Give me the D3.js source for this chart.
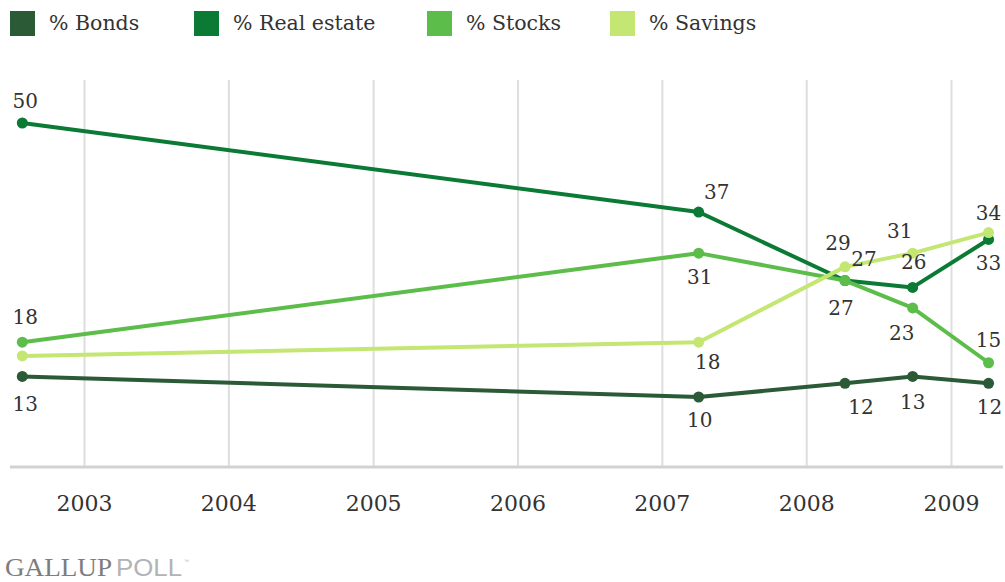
<!DOCTYPE html>
<html>
<head>
<meta charset="utf-8">
<script src="https://cdn.jsdelivr.net/npm/d3@7"></script>
<style>
  html, body { margin: 0; padding: 0; background: #fff; }
  svg { display: block; }
  .legend-label, .point-label, .year-label { font-family: "DejaVu Serif", serif; fill: #333; }
</style>
</head>
<body>
<div id="chart"></div>
<script>
// Poll dates and answers (% naming each as best long-term investment)
const pollDates = ["2002-07-29", "2007-04-04", "2008-04-08", "2008-09-26", "2009-04-06"];
const bonds = [13, 10, 12, 13, 12];
const realEstate = [50, 37, 27, 26, 33];
const stocks = [18, 31, 27, 23, 15];
const savings = [16, 18, 29, 31, 34];
const yearTicks = [2003, 2004, 2005, 2006, 2007, 2008, 2009];

const seriesNames = ["% Bonds", "% Real estate", "% Stocks", "% Savings"];
const seriesValues = [bonds, realEstate, stocks, savings];
// which points carry a printed value (the first savings figure is hidden in the original)
const seriesShown = [
  [true, true, true, true, true],
  [true, true, true, true, true],
  [true, true, true, true, true],
  [false, true, true, true, true],
];

const COLORS = ["#2b5a36", "#0b7a35", "#5dbd4b", "#c4e673"];

// label offsets from each point (label centre), tuned by eye
const LABEL_OFFSETS = [
  [[3, 28], [1, 23], [16, 24], [0, 26], [1, 24]],
  [[3, -22], [18, -20], [19, -22], [1, -25], [0, 24]],
  [[3, -25], [1, 24], [-4, 27], [-11, 25], [0, -23]],
  [[0, 0], [9, 20], [-7, -24], [-13, -22], [0, -20]],
];

const WIDTH = 1005;
const HEIGHT = 582;
const PLOT_TOP = 80;
const PLOT_BOTTOM = 466;

const parseDate = d3.timeParse("%Y-%m-%d");
const dates = pollDates.map(parseDate);

const x = d3
  .scaleTime()
  .domain([new Date(2003, 0, 1), new Date(2009, 0, 1)])
  .range([84, 951]);

const y = d3.scaleLinear().domain([0, 50]).range([PLOT_BOTTOM - 0.5, 123]);

const svg = d3
  .select("#chart")
  .append("svg")
  .attr("width", WIDTH)
  .attr("height", HEIGHT)
  .attr("viewBox", `0 0 ${WIDTH} ${HEIGHT}`);

// —— Legend ——
const legendX = [10, 194, 427, 610];
const legend = svg
  .selectAll(".legend-item")
  .data(seriesNames)
  .join("g")
  .attr("class", "legend-item")
  .attr("transform", (d, i) => `translate(${legendX[i]},11)`);

legend
  .append("rect")
  .attr("width", 25)
  .attr("height", 25)
  .attr("fill", (d, i) => COLORS[i]);

legend
  .append("text")
  .attr("class", "legend-label")
  .attr("x", 39)
  .attr("y", 19)
  .style("font-size", "20.5px")
  .text((d) => d);

// —— Axis + gridlines ——
const axis = svg
  .append("g")
  .attr("transform", `translate(0,${PLOT_BOTTOM})`)
  .call(
    d3
      .axisBottom(x)
      .tickValues(yearTicks.map((yr) => new Date(yr, 0, 1)))
      .tickSize(-(PLOT_BOTTOM - PLOT_TOP))
      .tickPadding(29)
      .tickFormat(d3.timeFormat("%Y"))
  );

axis.select(".domain").remove();
axis.selectAll(".tick line").attr("stroke", "#dedede").attr("stroke-width", 2);
axis
  .selectAll(".tick text")
  .attr("class", "year-label")
  .style("font-size", "22px")
  .attr("fill", "#333");

svg
  .append("line")
  .attr("x1", 10)
  .attr("x2", 1003)
  .attr("y1", PLOT_BOTTOM + 1)
  .attr("y2", PLOT_BOTTOM + 1)
  .attr("stroke", "#d2d2d2")
  .attr("stroke-width", 3);

// —— Lines ——
const series = seriesNames.map((name, i) => ({
  name,
  color: COLORS[i],
  points: seriesValues[i].map((v, j) => ({
    date: dates[j],
    value: v,
    shown: seriesShown[i][j],
    offset: LABEL_OFFSETS[i][j],
  })),
}));

const line = d3
  .line()
  .x((d) => x(d.date))
  .y((d) => y(d.value));

const groups = svg
  .selectAll(".series")
  .data(series)
  .join("g")
  .attr("class", "series");

groups
  .append("path")
  .attr("d", (d) => line(d.points))
  .attr("fill", "none")
  .attr("stroke", (d) => d.color)
  .attr("stroke-width", 4)
  .attr("stroke-linejoin", "round");

groups
  .selectAll("circle")
  .data((d) => d.points.map((p) => ({ ...p, color: d.color })))
  .join("circle")
  .attr("cx", (d) => x(d.date))
  .attr("cy", (d) => y(d.value))
  .attr("r", 5.5)
  .attr("fill", (d) => d.color);

// —— Value labels ——
const labels = series.flatMap((s) => s.points.filter((p) => p.shown));

svg
  .append("g")
  .selectAll("text")
  .data(labels)
  .join("text")
  .attr("class", "point-label")
  .attr("x", (d) => x(d.date) + d.offset[0])
  .attr("y", (d) => y(d.value) + d.offset[1])
  .attr("text-anchor", "middle")
  .attr("dominant-baseline", "central")
  .style("font-size", "20px")
  .text((d) => d.value);

// —— Footer ——
svg
  .append("text")
  .attr("x", 5)
  .attr("y", 576)
  .attr("textLength", 107)
  .attr("lengthAdjust", "spacingAndGlyphs")
  .style("font-family", "'Liberation Serif', serif")
  .style("font-size", "26px")
  .attr("fill", "#7d7d7d")
  .text("GALLUP");

svg
  .append("text")
  .attr("x", 116)
  .attr("y", 576)
  .attr("textLength", 66)
  .attr("lengthAdjust", "spacingAndGlyphs")
  .style("font-family", "'Liberation Sans', sans-serif")
  .style("font-size", "24px")
  .attr("fill", "#b3b3b3")
  .text("POLL");

svg
  .append("text")
  .attr("x", 184)
  .attr("y", 563)
  .style("font-family", "'Liberation Sans', sans-serif")
  .style("font-size", "5px")
  .attr("fill", "#b3b3b3")
  .text("™");
</script>
</body>
</html>
